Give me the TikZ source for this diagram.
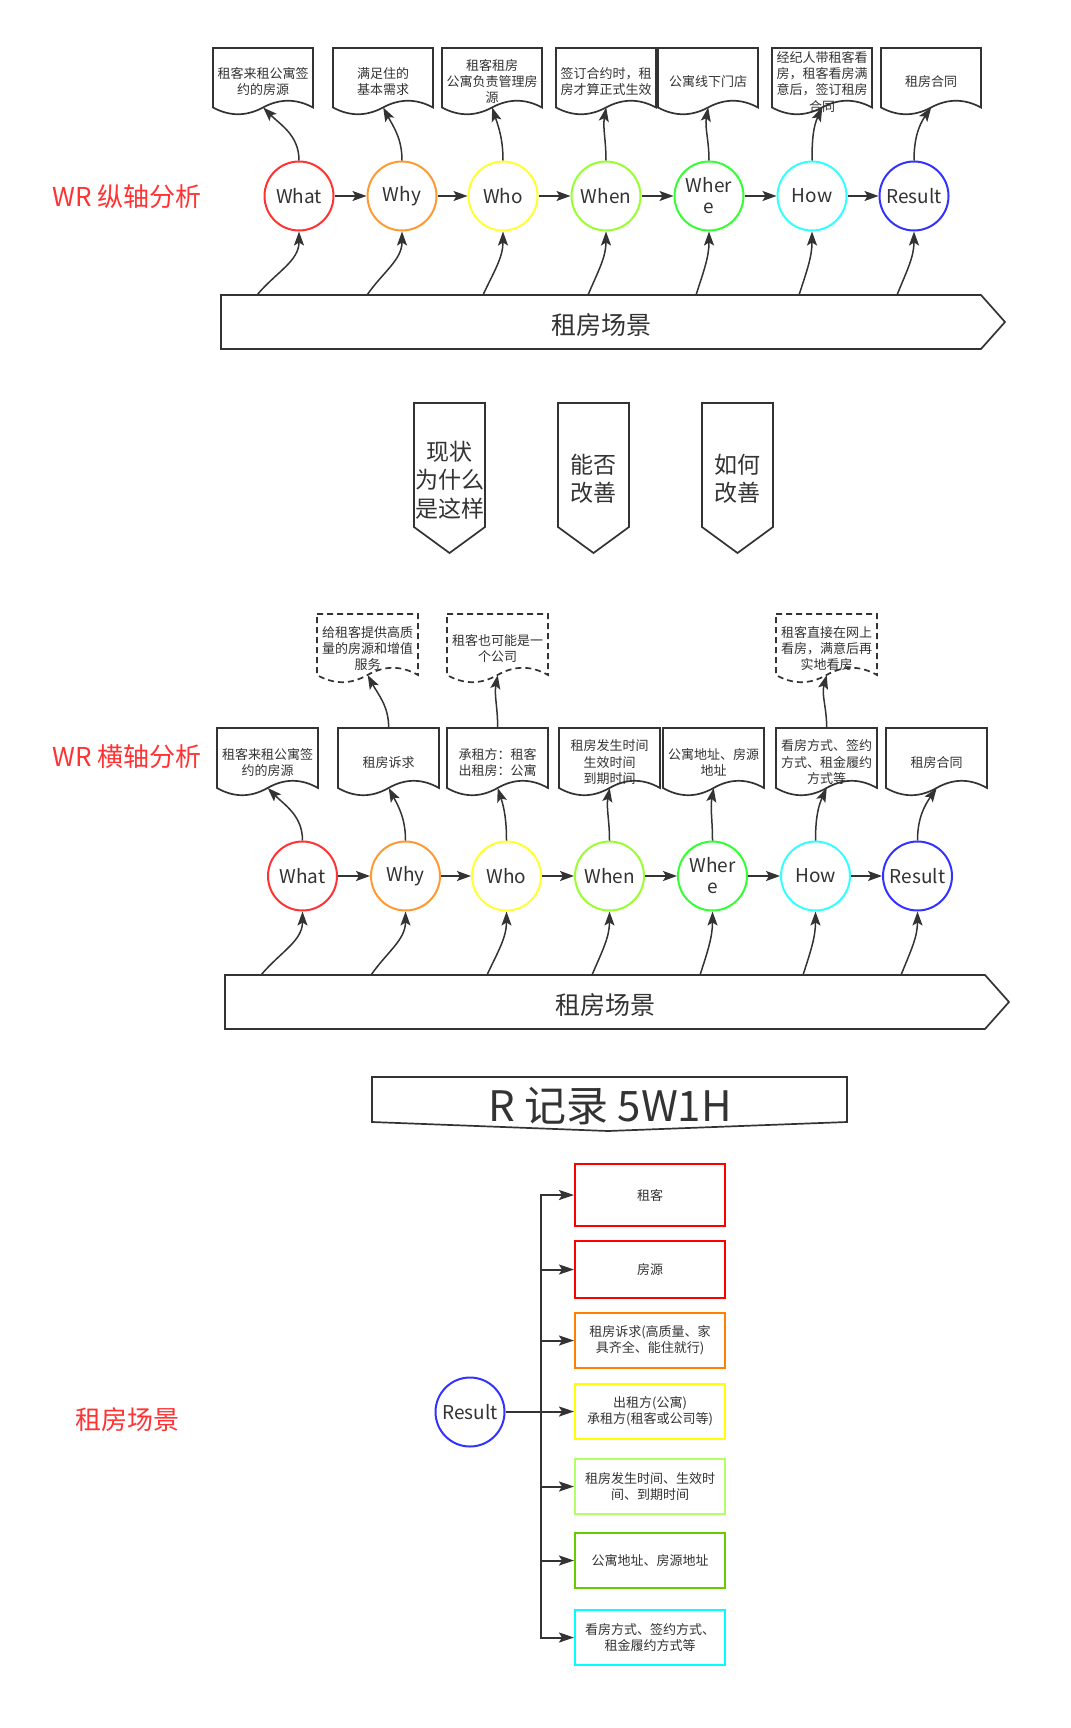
\documentclass[tikz,border=0pt]{standalone}
\usepackage{fontspec}
\setmainfont{Noto Sans CJK SC}
\usetikzlibrary{arrows.meta,calc}
\definecolor{ink}{HTML}{333333}
\definecolor{ttlred}{HTML}{FF3333}
\definecolor{cWhat}{HTML}{FF3333}
\definecolor{cWhy}{HTML}{FF9933}
\definecolor{cWho}{HTML}{FFFF33}
\definecolor{cWhen}{HTML}{99FF33}
\definecolor{cWhere}{HTML}{33FF33}
\definecolor{cHow}{HTML}{33FFFF}
\definecolor{cResult}{HTML}{3333FF}
\definecolor{bRed}{HTML}{FF0000}
\definecolor{bOrange}{HTML}{FF8000}
\definecolor{bYellow}{HTML}{FFFF00}
\definecolor{bLime}{HTML}{B3FF66}
\definecolor{bGreen}{HTML}{66CC00}
\definecolor{bCyan}{HTML}{00FFFF}
\tikzset{
  circ/.style={circle, draw=#1, line width=2pt, minimum size=69pt, inner sep=0pt,
    font=\fontsize{19}{21}\selectfont, align=center, text=ink},
  doc/.style={rectangle, inner sep=0pt, minimum width=100pt, minimum height=67pt,
    align=center, font=\fontsize{13}{16.3}\selectfont, text=ink, anchor=north west},
  arr/.style={draw=ink, line width=1.5pt, -{Stealth[length=14pt,width=10pt,inset=3pt]}},
  arrt/.style={draw=ink, line width=2pt, -{Stealth[length=15pt,width=10pt,inset=3pt]}},
  outl/.style={draw=ink, line width=1.7pt, line join=miter},
  box/.style={rectangle, draw=#1, line width=2pt, minimum width=150pt, inner sep=0pt,
    align=center, font=\fontsize{13}{16}\selectfont, text=ink},
  ttl/.style={text=ttlred, font=\fontsize{26}{30}\selectfont},
  bigtxt/.style={text=ink, font=\fontsize{25}{30}\selectfont},
  pent/.style={text=ink, align=center, font=\fontsize{23}{28.3}\selectfont},
}
% name, w, h, dy
\newcommand\docout[5][]{%
  \draw[outl,#1,shift={(#2.north west)}] (0,0) -- (#3,0) -- (#3,{#4-#5/2})
   .. controls ({#3*5/6},{#4-1.1*#5}) and ({#3*2/3},{#4-1.1*#5}) .. ({#3/2},{#4-#5/2})
   .. controls ({#3/3},{#4+0.1*#5}) and ({#3/6},{#4+0.1*#5}) .. (0,{#4-#5/2}) -- cycle;
  \coordinate (#2-b) at ($(#2.north)+(0,{#4-#5/2})$);%
}
\begin{document}
\begin{tikzpicture}[x=1pt,y=-1pt]
\fill[white] (0,0) rectangle (1070,1728);
\useasboundingbox (0,0) rectangle (1070,1728);

%================ Section 1 =================
\node[ttl] (t1) at (127,197) {WR 纵轴分析};

\node[doc] (d1) at (213,48) {租客来租公寓签\\约的房源};
\node[doc] (d2) at (333,48) {满足住的\\基本需求};
\node[doc] (d3) at (442,48) {租客租房\\公寓负责管理房\\源};
\node[doc] (d4) at (556,48) {签订合约时，租\\房才算正式生效};
\node[doc] (d5) at (658,48) {公寓线下门店};
\node[doc] (d6) at (772,48) {经纪人带租客看\\房，租客看房满\\意后，签订租房\\合同};
\node[doc] (d7) at (881,48) {租房合同};
\foreach \n in {d1,d2,d3,d4,d5,d6,d7} {\docout{\n}{100}{67}{15}}

\node[circ=cWhat] (a1) at (299,196) {What};
\node[circ=cWhy] (a2) at (402,196) {Why};
\node[circ=cWho] (a3) at (503,196) {Who};
\node[circ=cWhen] (a4) at (606,196) {When};
\node[circ=cWhere] (a5) at (709,196) {Wher\\e};
\node[circ=cHow] (a6) at (812,196) {How};
\node[circ=cResult] (a7) at (914,196) {Result};

\draw[arr] (a1) -- (a2);
\draw[arr] (a2) -- (a3);
\draw[arr] (a3) -- (a4);
\draw[arr] (a4) -- (a5);
\draw[arr] (a5) -- (a6);
\draw[arr] (a6) -- (a7);

\draw[arr] (a1.north) to[out=90,in=-45] (d1-b);
\draw[arr] (a2.north) to[out=90,in=-62] (d2-b);
\draw[arr] (a3.north) to[out=90,in=-72] (d3-b);
\draw[arr] (a4.north) to[out=90,in=-100] (d4-b);
\draw[arr] (a5.north) to[out=90,in=-100] (d5-b);
\draw[arr] (a6.north) to[out=90,in=-115] (d6-b);
\draw[arr] (a7.north) to[out=90,in=-125] (d7-b);

\draw[outl] (221,295) -- (981,295) -- (1005,322) -- (981,349) -- (221,349) -- cycle;
\node[bigtxt] (ban1) at (601,325) {租房场景};
\coordinate (s1) at (257,295);
\coordinate (s2) at (367,295);
\coordinate (s3) at (483,295);
\coordinate (s4) at (588,295);
\coordinate (s5) at (696,295);
\coordinate (s6) at (799,295);
\coordinate (s7) at (897,295);
\draw[arr] (s1) to[out=50,in=-90] (a1.south);
\draw[arr] (s2) to[out=55,in=-90] (a2.south);
\draw[arr] (s3) to[out=65,in=-90] (a3.south);
\draw[arr] (s4) to[out=67,in=-90] (a4.south);
\draw[arr] (s5) to[out=72,in=-90] (a5.south);
\draw[arr] (s6) to[out=72,in=-90] (a6.south);
\draw[arr] (s7) to[out=68,in=-90] (a7.south);

%================ Section 2 =================
\draw[outl] (414,403) -- (485,403) -- (485,527) -- (449.5,553) -- (414,527) -- cycle;
\node[pent] (q1) at (449.5,480) {现状\\为什么\\是这样};
\draw[outl] (558,403) -- (629,403) -- (629,527) -- (593.5,553) -- (558,527) -- cycle;
\node[pent] (q2) at (593.5,479) {能否\\改善};
\draw[outl] (702,403) -- (773,403) -- (773,527) -- (737.5,553) -- (702,527) -- cycle;
\node[pent] (q3) at (737.5,479) {如何\\改善};

%================ Section 3 =================
\node[ttl] (t2) at (127,757) {WR 横轴分析};

\node[doc,minimum width=101pt,minimum height=69pt] (e1) at (317,614) {给租客提供高质\\量的房源和增值\\服务};
\node[doc,minimum width=101pt,minimum height=69pt] (e2) at (447,614) {租客也可能是一\\个公司};
\node[doc,minimum width=101pt,minimum height=69pt] (e3) at (776,614) {租客直接在网上\\看房，满意后再\\实地看房};
\foreach \n in {e1,e2,e3} {\docout[dash pattern=on 6pt off 4pt]{\n}{101}{69}{16}}

\node[doc,minimum width=101pt,minimum height=68pt] (f1) at (217,728) {租客来租公寓签\\约的房源};
\node[doc,minimum width=101pt,minimum height=68pt] (f2) at (338,728) {租房诉求};
\node[doc,minimum width=101pt,minimum height=68pt] (f3) at (447,728) {承租方：租客\\出租房：公寓};
\node[doc,minimum width=101pt,minimum height=68pt] (f4) at (559,728) {租房发生时间\\生效时间\\到期时间};
\node[doc,minimum width=101pt,minimum height=68pt] (f5) at (663,728) {公寓地址、房源\\地址};
\node[doc,minimum width=101pt,minimum height=68pt] (f6) at (776,728) {看房方式、签约\\方式、租金履约\\方式等};
\node[doc,minimum width=101pt,minimum height=68pt] (f7) at (886,728) {租房合同};
\foreach \n in {f1,f2,f3,f4,f5,f6,f7} {\docout{\n}{101}{68}{16}}

\draw[arr] (f2.north) to[out=90,in=-62] (e1-b);
\draw[arr] (f3.north) to[out=90,in=-100] (e2-b);
\draw[arr] (f6.north) to[out=90,in=-105] (e3-b);

\node[circ=cWhat] (g1) at (302.5,876) {What};
\node[circ=cWhy] (g2) at (405.5,876) {Why};
\node[circ=cWho] (g3) at (506.5,876) {Who};
\node[circ=cWhen] (g4) at (609.5,876) {When};
\node[circ=cWhere] (g5) at (712.5,876) {Wher\\e};
\node[circ=cHow] (g6) at (815.5,876) {How};
\node[circ=cResult] (g7) at (917.5,876) {Result};

\draw[arr] (g1) -- (g2);
\draw[arr] (g2) -- (g3);
\draw[arr] (g3) -- (g4);
\draw[arr] (g4) -- (g5);
\draw[arr] (g5) -- (g6);
\draw[arr] (g6) -- (g7);

\draw[arr] (g1.north) to[out=90,in=-45] (f1-b);
\draw[arr] (g2.north) to[out=90,in=-62] (f2-b);
\draw[arr] (g3.north) to[out=90,in=-72] (f3-b);
\draw[arr] (g4.north) to[out=90,in=-100] (f4-b);
\draw[arr] (g5.north) to[out=90,in=-100] (f5-b);
\draw[arr] (g6.north) to[out=90,in=-115] (f6-b);
\draw[arr] (g7.north) to[out=90,in=-125] (f7-b);

\draw[outl] (225,975) -- (985,975) -- (1009,1002) -- (985,1029) -- (225,1029) -- cycle;
\node[bigtxt] (ban2) at (605,1005) {租房场景};
\coordinate (r1) at (261,975);
\coordinate (r2) at (371,975);
\coordinate (r3) at (487,975);
\coordinate (r4) at (592,975);
\coordinate (r5) at (700,975);
\coordinate (r6) at (803,975);
\coordinate (r7) at (901,975);
\draw[arr] (r1) to[out=50,in=-90] (g1.south);
\draw[arr] (r2) to[out=55,in=-90] (g2.south);
\draw[arr] (r3) to[out=65,in=-90] (g3.south);
\draw[arr] (r4) to[out=67,in=-90] (g4.south);
\draw[arr] (r5) to[out=72,in=-90] (g5.south);
\draw[arr] (r6) to[out=72,in=-90] (g6.south);
\draw[arr] (r7) to[out=68,in=-90] (g7.south);

%================ Section 4 =================
\draw[outl] (372,1077) -- (847,1077) -- (847,1122) -- (608,1131) -- (372,1122) -- cycle;
\node[text=ink, font=\fontsize{42}{50}\selectfont] (rt) at (610,1106) {R 记录 5W1H};

\node[ttl] (t3) at (127,1420) {租房场景};

\node[circ=cResult] (res) at (470,1412) {Result};
\node[box=bRed, minimum height=62pt] (b1) at (650,1195) {租客};
\node[box=bRed, minimum height=57pt] (b2) at (650,1269.5) {房源};
\node[box=bOrange, minimum height=55pt] (b3) at (650,1340.5) {租房诉求(高质量、家\\具齐全、能住就行)};
\node[box=bYellow, minimum height=55pt] (b4) at (650,1411.5) {出租方(公寓)\\承租方(租客或公司等)};
\node[box=bLime, minimum height=55pt] (b5) at (650,1486.5) {租房发生时间、生效时\\间、到期时间};
\node[box=bGreen, minimum height=55pt] (b6) at (650,1560.5) {公寓地址、房源地址};
\node[box=bCyan, minimum height=55pt] (b7) at (650,1637.5) {看房方式、签约方式、\\租金履约方式等};

\foreach \b in {b1,b2,b3,b4,b5,b6,b7} {
  \draw[arrt] (res.east) -- ++(35.5,0) |- (\b.west);
}
\end{tikzpicture}
\end{document}
